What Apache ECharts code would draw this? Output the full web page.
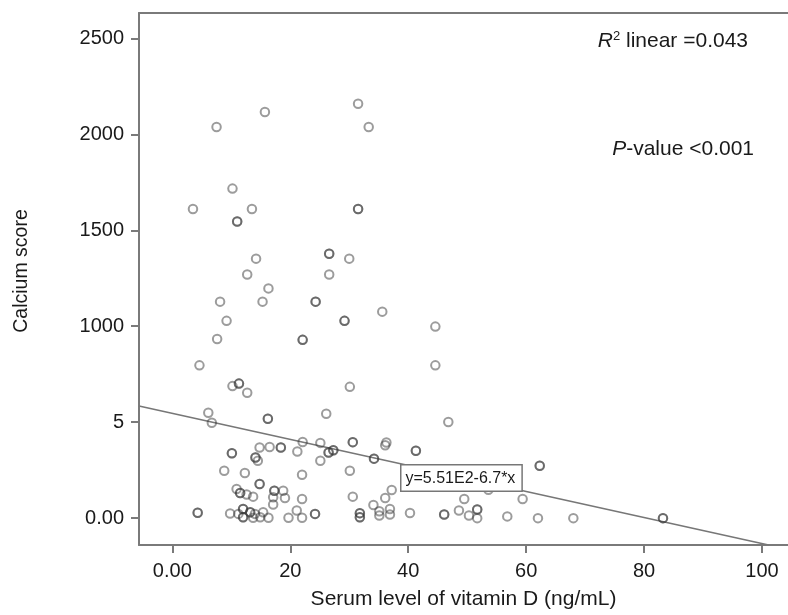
<!DOCTYPE html>
<html>
<head>
<meta charset="utf-8">
<script src="https://cdn.jsdelivr.net/npm/echarts@6/dist/echarts.min.js"></script>
<style>html,body{margin:0;padding:0;background:#fff}#c{width:788px;height:615px}</style>
</head>
<body>
<div id="c"></div>
<script>
// Serum vitamin D (ng/mL)
const vitaminD = [
 3.5,7.5,15.7,10.2,13.5,11.0,11.0,31.5,33.3,31.5,31.5,14.2,12.7,16.3,26.6,26.6,30.0,26.6,8.1,15.3,24.3,24.3,35.6,9.2,7.6,22.1,22.1,29.2,29.2,44.6,44.6,4.6,10.2,11.3,11.3,12.7,30.1,6.1,6.7,16.2,16.2,26.1,46.8,
 22.1,25.1,30.6,30.6,36.3,36.1,10.1,10.1,14.8,16.5,18.4,18.4,21.2,14.1,14.1,14.5,26.5,27.3,27.3,26.5,25.1,34.2,34.2,41.3,41.3,8.8,12.3,22.0,30.1,62.3,62.3,
 14.8,14.8,10.9,11.5,11.5,12.6,13.7,17.3,17.3,18.8,17.1,17.1,19.1,22.0,30.6,37.2,36.1,34.1,53.6,49.5,59.4,
 4.3,4.3,9.8,12.0,12.0,11.2,12.0,12.0,13.2,13.2,14.0,13.7,15.4,16.3,14.9,19.7,21.1,22.0,24.2,24.2,31.8,31.8,31.8,31.8,35.1,35.1,36.9,36.9,40.3,46.1,46.1,48.6,50.3,51.7,51.7,51.7,56.8,62.0,68.0,83.2,83.2
];
// Calcium score
const calcium = [
 1611,2038,2116,1717,1611,1546,1546,2159,2038,1611,1611,1352,1269,1197,1378,1378,1352,1269,1128,1128,1128,1128,1076,1028,933,929,929,1028,1028,998,796,796,688,701,701,653,684,549,497,518,518,544,501,
 397,392,396,396,394,380,338,338,368,371,368,368,347,316,316,299,342,354,354,342,299,310,310,351,351,247,235,226,247,273,273,
 178,178,152,131,131,123,112,143,143,143,109,71,105,100,112,147,105,68,148,100,100,
 28,28,24,48,48,22,5,5,31,31,22,2,31,2,5,2,40,2,22,22,26,26,5,5,36,14,48,19,27,19,19,40,14,45,45,0,9,0,0,0,0
];
// Fit line endpoints (as drawn)
const fitX = [-5.65, 101.1];
const fitY = [584, -140];
const xTicks = [0, 20, 40, 60, 80, 100];
const xTickLabels = ['0.00', '20', '40', '60', '80', '100'];
const yTicks = [0, 500, 1000, 1500, 2000, 2500];
const yTickLabels = ['0.00', '5', '1000', '1500', '2000', '2500'];

const pts = vitaminD.map((v, i) => [v, calcium[i]]);
const fit = fitX.map((v, i) => [v, fitY[i]]);

const FONT = 'Liberation Sans, Arial, sans-serif';
const axisCol = '#7a7a7a';
const chart = echarts.init(document.getElementById('c'), null, {renderer: 'canvas'});
chart.setOption({
  animation: false,
  backgroundColor: '#fff',
  grid: {left: 139, top: 13, right: 0, bottom: 67, containLabel: false},
  xAxis: [{
    type: 'value', min: -5.65, max: 104.4,
    name: 'Serum level of vitamin D (ng/mL)', nameLocation: 'middle', nameGap: 44,
    nameTextStyle: {fontFamily: FONT, fontSize: 21, color: '#1a1a1a'},
    splitLine: {show: false},
    axisLine: {show: true, onZero: false, lineStyle: {color: axisCol, width: 2}},
    axisTick: {show: true, customValues: xTicks, length: 8, lineStyle: {color: axisCol, width: 2}},
    axisLabel: {customValues: xTicks, margin: 16, fontFamily: FONT, fontSize: 20, color: '#1a1a1a',
      formatter: v => xTickLabels[xTicks.indexOf(v)] ?? ''}
  }, {
    type: 'value', position: 'top', min: -5.65, max: 104.4,
    splitLine: {show: false}, axisTick: {show: false}, axisLabel: {show: false},
    axisLine: {show: true, onZero: false, lineStyle: {color: axisCol, width: 2}}
  }],
  yAxis: {
    type: 'value', min: -140, max: 2632,
    splitLine: {show: false},
    axisLine: {show: true, onZero: false, lineStyle: {color: axisCol, width: 2}},
    axisTick: {show: true, customValues: yTicks, length: 8, lineStyle: {color: axisCol, width: 2}},
    axisLabel: {customValues: yTicks, margin: 15, fontFamily: FONT, fontSize: 20, color: '#1a1a1a',
      formatter: v => yTickLabels[yTicks.indexOf(v)] ?? ''}
  },
  series: [{
    type: 'line', data: fit, symbol: 'none', silent: true, z: 1,
    lineStyle: {color: '#777', width: 1.6}
  }, {
    type: 'scatter', data: pts, symbol: 'circle', symbolSize: 8.5, z: 2,
    itemStyle: {color: 'rgba(255,255,255,0)', borderColor: 'rgba(55,55,55,0.62)', borderWidth: 2}
  }],
  graphic: [{
    type: 'text', x: 22, y: 271, rotation: Math.PI / 2, z: 10,
    style: {text: 'Calcium score', font: '19.5px ' + FONT, fill: '#1a1a1a', align: 'center', verticalAlign: 'middle'}
  }, {
    type: 'text', left: 400, top: 464, z: 10,
    style: {text: 'y=5.51E2-6.7*x', font: '16px ' + FONT, fill: '#1a1a1a',
      backgroundColor: '#fff', borderColor: '#777', borderWidth: 1.5, padding: [5, 6, 4, 4]}
  }, {
    type: 'text', right: 40, top: 30, z: 10,
    style: {
      text: '{i|R}{s|2}{n| linear =0.043}',
      rich: {
        i: {fontFamily: FONT, fontSize: 21, fontStyle: 'italic', fill: '#1a1a1a'},
        s: {fontFamily: FONT, fontSize: 13, fill: '#1a1a1a', verticalAlign: 'top', padding: [0, 0, 9, 0]},
        n: {fontFamily: FONT, fontSize: 21, fill: '#1a1a1a'}
      }
    }
  }, {
    type: 'text', right: 34, top: 139, z: 10,
    style: {
      text: '{i|P}{n|-value <0.001}',
      rich: {
        i: {fontFamily: FONT, fontSize: 21, fontStyle: 'italic', fill: '#1a1a1a'},
        n: {fontFamily: FONT, fontSize: 21, fill: '#1a1a1a'}
      }
    }
  }]
});
</script>
</body>
</html>
